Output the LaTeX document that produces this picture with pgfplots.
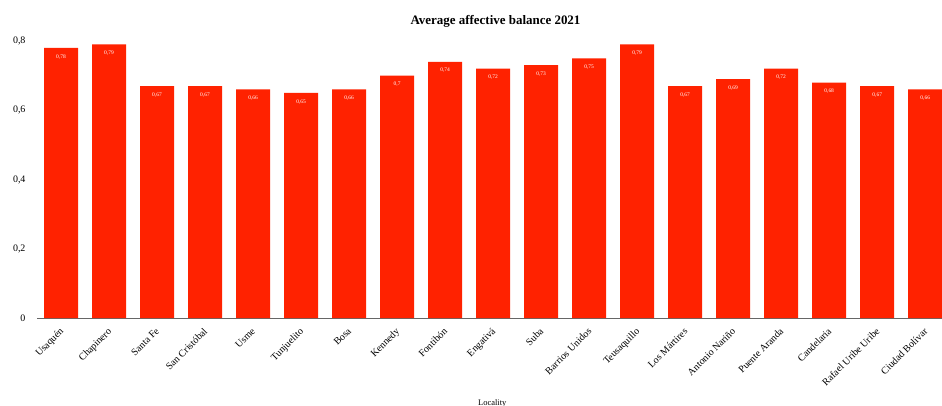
\documentclass[border=0pt]{standalone}
\usepackage{pgfplots}
\pgfplotsset{compat=1.18}
\usepackage{fontspec}
\setmainfont{Liberation Serif}
\definecolor{barred}{RGB}{255,34,0}
\pgfplotstableread{
x y
0 0.78
1 0.79
2 0.67
3 0.67
4 0.66
5 0.65
6 0.66
7 0.70
8 0.74
9 0.72
10 0.73
11 0.75
12 0.79
13 0.67
14 0.69
15 0.72
16 0.68
17 0.67
18 0.66
}\datatable
\begin{document}
\begin{tikzpicture}
\useasboundingbox (0,0) rectangle (942bp,406bp);
\begin{axis}[
  at={(37bp,88bp)}, anchor=south west,
  scale only axis,
  width=905bp, height=277bp,
  xmin=-0.5, xmax=18.35,
  ymin=0, ymax=0.8,
  ybar, bar width=34bp,
  bar shift=0pt,
  axis x line*=bottom,
  axis y line=none,
  x axis line style={draw=black!60, line width=0.8pt},
  ymajorgrids,
  grid style={draw=black!12, line width=0.5pt},
  ytick={0,0.2,0.4,0.6,0.8},
  xtick=data,
  xticklabels={Usaquén,Chapinero,Santa Fe,San Cristóbal,Usme,Tunjuelito,Bosa,Kennedy,Fontibón,Engativá,Suba,Barrios Unidos,Teusaquillo,Los Mártires,Antonio Nariño,Puente Aranda,Candelaria,Rafael Uribe Uribe,Ciudad Bolívar},
  xticklabel style={xshift=-2bp, yshift=-9bp, rotate=45, anchor=north east, font=\fontsize{10}{12}\selectfont, inner sep=0pt},
  major tick length=0pt,
  /pgf/number format/assume math mode=true,
  /pgf/number format/use comma,
  /pgf/number format/fixed,
  enlarge x limits=false,
  clip=false,
  nodes near coords,
  nodes near coords style={font=\fontsize{5.5}{6.5}\selectfont, text=white, anchor=north, yshift=-3bp, /pgf/number format/use comma, /pgf/number format/fixed},
  title={\bfseries Average affective balance 2021},
  title style={font=\fontsize{13}{15}\selectfont, at={(0.5,1)}, anchor=south, yshift=4bp, xshift=6bp},
  xlabel={Locality},
  xlabel style={font=\fontsize{8.5}{10}\selectfont, at={(0.503,0)}, anchor=north, yshift=-78bp},
]
\addplot[fill=barred, draw=none] table[x=x,y=y]{\datatable};
\end{axis}
\begin{axis}[
  at={(37bp,88bp)}, anchor=south west,
  scale only axis,
  width=905bp, height=277bp,
  xmin=-0.5, xmax=18.35,
  ymin=0, ymax=0.8,
  axis x line=none, axis y line*=left, y axis line style={draw=none},
  ytick={0,0.2,0.4,0.6,0.8},
  major tick length=0pt,
  yticklabel style={font=\fontsize{10}{12}\selectfont, xshift=-8bp},
  /pgf/number format/assume math mode=true,
  /pgf/number format/use comma,
  /pgf/number format/fixed,
]
\addplot[draw=none] coordinates {(0,0)};
\end{axis}
\end{tikzpicture}
\end{document}
